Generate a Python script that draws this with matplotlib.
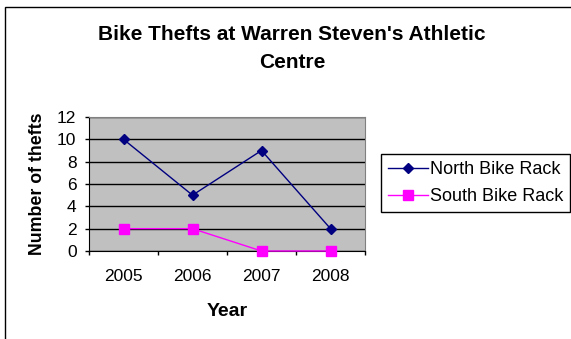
import matplotlib
matplotlib.use("Agg")
from matplotlib import pyplot as plt
from matplotlib.patches import Rectangle
import numpy as np

years = ["2005", "2006", "2007", "2008"]
north = [10, 5, 9, 2]
south = [2, 2, 0, 0]

plt.rcParams["font.family"] = ["Liberation Sans", "DejaVu Sans"]

W, H = 571, 339
fig = plt.figure(figsize=(W / 100, H / 100), dpi=100)

# chart frame (runs off the right and bottom edges)
fig.patches.append(Rectangle((5 / W, -0.1), 1.2, 1 - 7 / H + 0.1, transform=fig.transFigure,
                             fill=False, edgecolor="black", linewidth=1.0))

ax = fig.add_axes([89 / W, 1 - 251 / H, 276 / W, 134 / H])
ax.set_facecolor("#C0C0C0")

x = np.arange(len(years))
ax.plot(x, north, color="#000080", linewidth=1.0, marker="D", markersize=5.5,
        label="North Bike Rack", zorder=3)
ax.plot(x, south, color="#FF00FF", linewidth=1.0, marker="s", markersize=6.5,
        label="South Bike Rack", zorder=3, clip_on=False)

ax.set_xlim(-0.5, len(years) - 0.5)
ax.set_ylim(0, 12)
ax.set_yticks(np.arange(0, 13, 2))
ax.yaxis.grid(True, color="black", linewidth=1.0)
ax.set_axisbelow(True)

ax.set_xticks(x)
ax.set_xticklabels(years)
ax.set_xticks(np.arange(-0.5, len(years), 1.0), minor=True)
ax.tick_params(axis="x", which="major", length=0, pad=13, labelsize=12.5)
ax.tick_params(axis="x", which="minor", length=3, width=1, direction="out")
ax.tick_params(axis="y", length=3, width=1, direction="out", pad=6, labelsize=12.5)

for s in ["top", "right"]:
    ax.spines[s].set_color("#808080")
for s in ["left", "bottom"]:
    ax.spines[s].set_color("black")

ax.set_xlabel("Year", fontsize=14, fontweight="bold", labelpad=14)
ax.set_ylabel("Number of thefts", fontsize=12.8, fontweight="bold", labelpad=8)

fig.text(292 / W, 1 - 34 / H, "Bike Thefts at Warren Steven's Athletic", ha="center", va="center",
         fontsize=15, fontweight="bold")
fig.text(292 / W, 1 - 63 / H, "Centre", ha="center", va="center", fontsize=15, fontweight="bold")

leg = fig.legend(loc="upper left", bbox_to_anchor=(381 / W, 1 - 154 / H), fontsize=13,
                 frameon=True, fancybox=False, edgecolor="black", framealpha=1,
                 borderpad=0.4, labelspacing=0.55, handlelength=2.2, handletextpad=0.1,
                 borderaxespad=0)
leg.get_frame().set_linewidth(1.0)

fig.savefig("out.png", dpi=100)
